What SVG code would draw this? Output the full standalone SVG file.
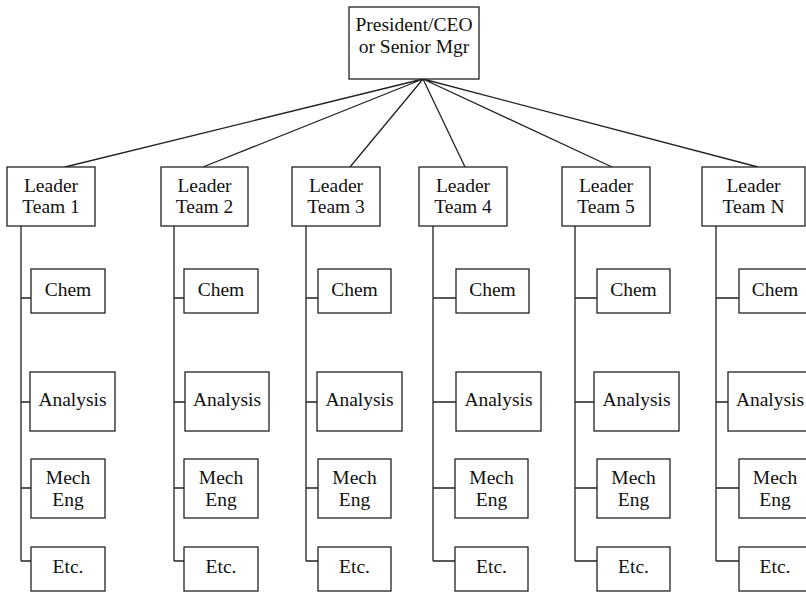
<svg xmlns="http://www.w3.org/2000/svg" width="806" height="593" viewBox="0 0 806 593">
  <style>
    .box { fill: #fff; stroke: #222; stroke-width: 1.3; }
    .wire { fill: none; stroke: #222; stroke-width: 1.3; }
    text { font-family: "Liberation Serif", "Times New Roman", serif; font-size: 19.5px; fill: #111; text-anchor: middle; }
  </style>
  <rect width="806" height="593" fill="#fff"/>

  <!-- connectors -->
  <g id="connectors" class="wire">
    <!-- top to team leaders -->
    <path d="M423,79 L65,167 M423,79 L203,167 M423,79 L350,167 M423,79 L465,167 M423,79 L612,167 M423,79 L758,167"/>
    <!-- team spines and branches -->
    <path d="M21,226 V561 M21,298 H31 M21,402 H30 M21,488 H31 M21,561 H31"/>
    <path d="M174,226 V561 M174,298 H184 M174,402 H185 M174,488 H184 M174,561 H184"/>
    <path d="M306,226 V561 M306,298 H318 M306,402 H317 M306,488 H318 M306,561 H318"/>
    <path d="M433,226 V561 M433,298 H456 M433,402 H456 M433,488 H455 M433,561 H455"/>
    <path d="M575,226 V561 M575,298 H597 M575,402 H594 M575,488 H597 M575,561 H597"/>
    <path d="M716,226 V561 M716,298 H739 M716,402 H728 M716,488 H739 M716,561 H739"/>
  </g>

  <!-- head -->
  <g id="head">
    <rect class="box" x="349" y="7" width="130" height="72"/>
    <text x="414" y="31">President/CEO</text>
    <text x="414" y="53">or Senior Mgr</text>
  </g>

  <!-- team 1 -->
  <g id="leader1"><rect class="box" x="7" y="167" width="88" height="59"/><text x="51" y="192">Leader</text><text x="51" y="213">Team 1</text></g>
  <g id="chem1"><rect class="box" x="31" y="269" width="74" height="44"/><text x="68" y="296">Chem</text></g>
  <g id="analysis1"><rect class="box" x="30" y="372" width="85" height="59"/><text x="72.5" y="406">Analysis</text></g>
  <g id="mech1"><rect class="box" x="31" y="459" width="74" height="59"/><text x="68" y="484">Mech</text><text x="68" y="506">Eng</text></g>
  <g id="etc1"><rect class="box" x="31" y="547" width="74" height="44"/><text x="68" y="573">Etc.</text></g>

  <!-- team 2 -->
  <g id="leader2"><rect class="box" x="161" y="167" width="87" height="59"/><text x="204.5" y="192">Leader</text><text x="204.5" y="213">Team 2</text></g>
  <g id="chem2"><rect class="box" x="184" y="269" width="74" height="44"/><text x="221" y="296">Chem</text></g>
  <g id="analysis2"><rect class="box" x="185" y="372" width="84" height="59"/><text x="227" y="406">Analysis</text></g>
  <g id="mech2"><rect class="box" x="184" y="459" width="74" height="59"/><text x="221" y="484">Mech</text><text x="221" y="506">Eng</text></g>
  <g id="etc2"><rect class="box" x="184" y="547" width="74" height="44"/><text x="221" y="573">Etc.</text></g>

  <!-- team 3 -->
  <g id="leader3"><rect class="box" x="292" y="167" width="88" height="59"/><text x="336" y="192">Leader</text><text x="336" y="213">Team 3</text></g>
  <g id="chem3"><rect class="box" x="318" y="269" width="73" height="44"/><text x="354.5" y="296">Chem</text></g>
  <g id="analysis3"><rect class="box" x="317" y="372" width="85" height="59"/><text x="359.5" y="406">Analysis</text></g>
  <g id="mech3"><rect class="box" x="318" y="459" width="73" height="59"/><text x="354.5" y="484">Mech</text><text x="354.5" y="506">Eng</text></g>
  <g id="etc3"><rect class="box" x="318" y="547" width="73" height="44"/><text x="354.5" y="573">Etc.</text></g>

  <!-- team 4 -->
  <g id="leader4"><rect class="box" x="419" y="167" width="88" height="59"/><text x="463" y="192">Leader</text><text x="463" y="213">Team 4</text></g>
  <g id="chem4"><rect class="box" x="456" y="269" width="73" height="44"/><text x="492.5" y="296">Chem</text></g>
  <g id="analysis4"><rect class="box" x="456" y="372" width="85" height="59"/><text x="498.5" y="406">Analysis</text></g>
  <g id="mech4"><rect class="box" x="455" y="459" width="73" height="59"/><text x="491.5" y="484">Mech</text><text x="491.5" y="506">Eng</text></g>
  <g id="etc4"><rect class="box" x="455" y="547" width="73" height="44"/><text x="491.5" y="573">Etc.</text></g>

  <!-- team 5 -->
  <g id="leader5"><rect class="box" x="562" y="167" width="88" height="59"/><text x="606" y="192">Leader</text><text x="606" y="213">Team 5</text></g>
  <g id="chem5"><rect class="box" x="597" y="269" width="73" height="44"/><text x="633.5" y="296">Chem</text></g>
  <g id="analysis5"><rect class="box" x="594" y="372" width="85" height="59"/><text x="636.5" y="406">Analysis</text></g>
  <g id="mech5"><rect class="box" x="597" y="459" width="73" height="59"/><text x="633.5" y="484">Mech</text><text x="633.5" y="506">Eng</text></g>
  <g id="etc5"><rect class="box" x="597" y="547" width="73" height="44"/><text x="633.5" y="573">Etc.</text></g>

  <!-- team N (runs off the right edge) -->
  <g id="leaderN"><rect class="box" x="702" y="167" width="103" height="59"/><text x="753.5" y="192">Leader</text><text x="753.5" y="213">Team N</text></g>
  <g id="chemN"><rect class="box" x="739" y="269" width="72" height="44"/><text x="775" y="296">Chem</text></g>
  <g id="analysisN"><rect class="box" x="728" y="372" width="84" height="59"/><text x="770" y="406">Analysis</text></g>
  <g id="mechN"><rect class="box" x="739" y="459" width="72" height="59"/><text x="775" y="484">Mech</text><text x="775" y="506">Eng</text></g>
  <g id="etcN"><rect class="box" x="739" y="547" width="72" height="44"/><text x="775" y="573">Etc.</text></g>
</svg>
